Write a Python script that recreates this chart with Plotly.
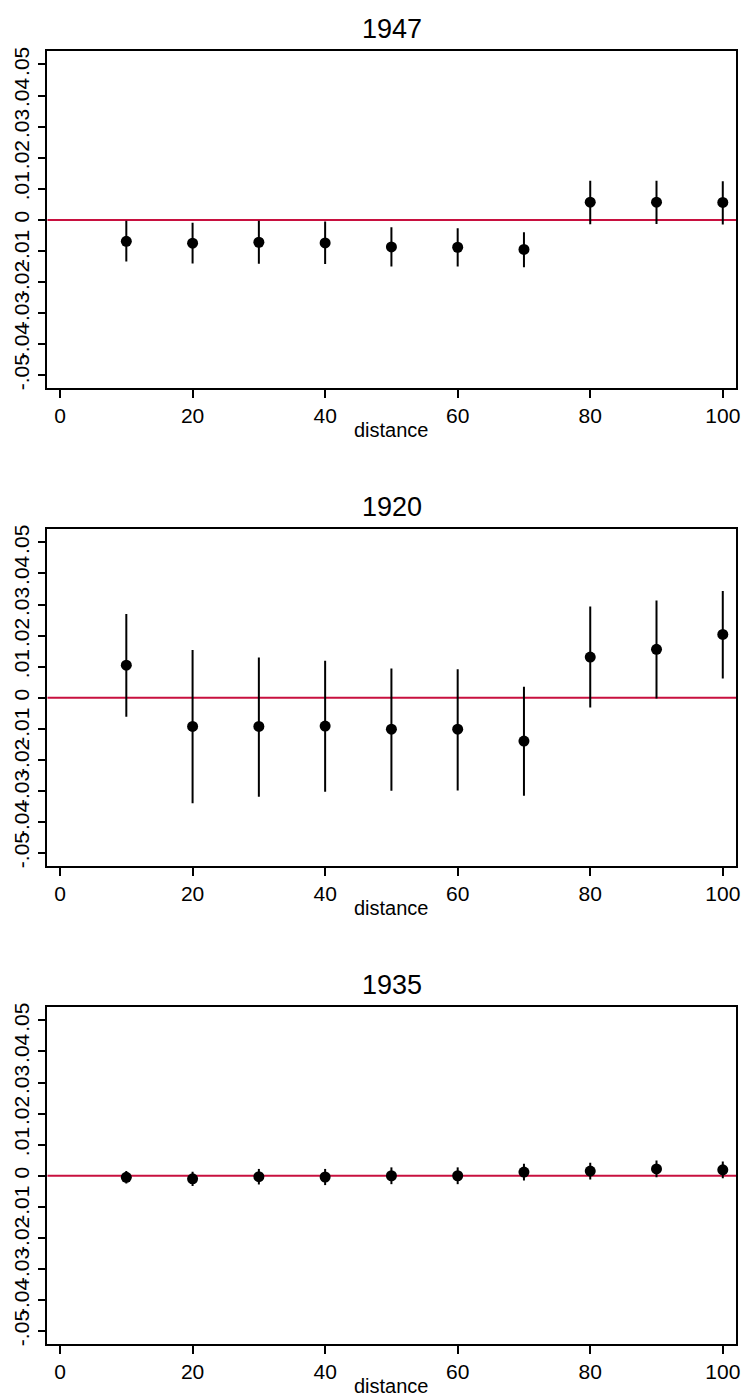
import plotly.graph_objects as go

W, H = 747, 1399

distance = [10, 20, 30, 40, 50, 60, 70, 80, 90, 100]
titles = ["1947", "1920", "1935"]

est_1947 = [-0.0069, -0.0075, -0.0072, -0.0074, -0.0087, -0.0088, -0.0095, 0.0057, 0.0057, 0.0056]
lo_1947 = [-0.0134, -0.0140, -0.0141, -0.0142, -0.0150, -0.0150, -0.0152, -0.0014, -0.0013, -0.0015]
hi_1947 = [-0.0003, -0.0009, -0.0003, -0.0005, -0.0024, -0.0027, -0.0040, 0.0126, 0.0126, 0.0124]

est_1920 = [0.0105, -0.0092, -0.0092, -0.0091, -0.0101, -0.0101, -0.0139, 0.0131, 0.0156, 0.0204]
lo_1920 = [-0.0061, -0.0339, -0.0318, -0.0302, -0.0299, -0.0298, -0.0315, -0.0031, -0.0002, 0.0062]
hi_1920 = [0.0270, 0.0154, 0.0130, 0.0119, 0.0094, 0.0092, 0.0036, 0.0294, 0.0313, 0.0344]

est_1935 = [-0.0005, -0.0010, -0.0003, -0.0004, 0.0000, 0.0000, 0.0012, 0.0015, 0.0022, 0.0019]
lo_1935 = [-0.0025, -0.0033, -0.0028, -0.0030, -0.0027, -0.0027, -0.0015, -0.0012, -0.0005, -0.0008]
hi_1935 = [0.0015, 0.0013, 0.0022, 0.0022, 0.0027, 0.0027, 0.0039, 0.0042, 0.0049, 0.0046]

x_ticks = [0, 20, 40, 60, 80, 100]
y_ticks = [-0.05, -0.04, -0.03, -0.02, -0.01, 0, 0.01, 0.02, 0.03, 0.04, 0.05]
y_tick_text = ["-.05", "-.04", "-.03", "-.02", "-.01", "0", ".01", ".02", ".03", ".04", ".05"]
x_title = "distance"

series = [(est_1947, lo_1947, hi_1947), (est_1920, lo_1920, hi_1920), (est_1935, lo_1935, hi_1935)]

FONT = "Liberation Sans, Arial, sans-serif"
frame_left, frame_right = 47.7, 740
frame_tops = [47, 527, 1007]
frame_h = 339

def py(p):
    return 1 - p / H

fig = go.Figure()
layout = dict(
    width=W, height=H, margin=dict(l=0, r=0, t=0, b=0),
    paper_bgcolor="white", plot_bgcolor="white", showlegend=False,
    font=dict(family=FONT, color="black", size=21),
)
shapes = []
annotations = []
for i, (est, lo, hi) in enumerate(series):
    n = i + 1
    xa = "x" if n == 1 else f"x{n}"
    ya = "y" if n == 1 else f"y{n}"
    top = frame_tops[i]
    bot = top + frame_h
    fig.add_trace(go.Scatter(
        x=distance, y=est, mode="markers", xaxis=xa, yaxis=ya,
        marker=dict(color="black", size=11),
        error_y=dict(type="data", symmetric=False,
                     array=[h - e for h, e in zip(hi, est)],
                     arrayminus=[e - l for e, l in zip(est, lo)],
                     color="black", thickness=2, width=0),
    ))
    axis_common = dict(showline=True, mirror=True, linecolor="black", linewidth=1.5,
                       ticks="outside", ticklen=8, tickwidth=1.5, tickcolor="black",
                       showgrid=False, zeroline=False,
                       tickfont=dict(family=FONT, size=21, color="black"))
    layout[f"xaxis{'' if n == 1 else n}"] = dict(
        domain=[frame_left / W, frame_right / W], anchor=ya,
        range=[-1.9, 102.0], tickvals=x_ticks, ticktext=[str(v) for v in x_ticks],
        **axis_common)
    layout[f"yaxis{'' if n == 1 else n}"] = dict(
        domain=[py(bot), py(top)], anchor=xa,
        range=[-0.0542, 0.0544], tickvals=y_ticks, ticktext=y_tick_text,
        tickangle=-90, **axis_common)
    shapes.append(dict(type="line", xref=f"{xa} domain", yref=ya, x0=0, x1=1, y0=0, y1=0,
                       line=dict(color="#C8103F", width=2), layer="below"))
    annotations.append(dict(text=titles[i], xref="paper", yref="paper",
                            x=(frame_left + frame_right) / 2 / W, y=py(top - 22),
                            xanchor="center", yanchor="middle", showarrow=False,
                            font=dict(family=FONT, size=27, color="black")))
    annotations.append(dict(text=x_title, xref="paper", yref="paper",
                            x=(frame_left + frame_right) / 2 / W, y=py(bot + 42),
                            xanchor="center", yanchor="middle", showarrow=False,
                            font=dict(family=FONT, size=20, color="black")))

layout["shapes"] = shapes
layout["annotations"] = annotations
fig.update_layout(**layout)
fig.write_html("out.html")
